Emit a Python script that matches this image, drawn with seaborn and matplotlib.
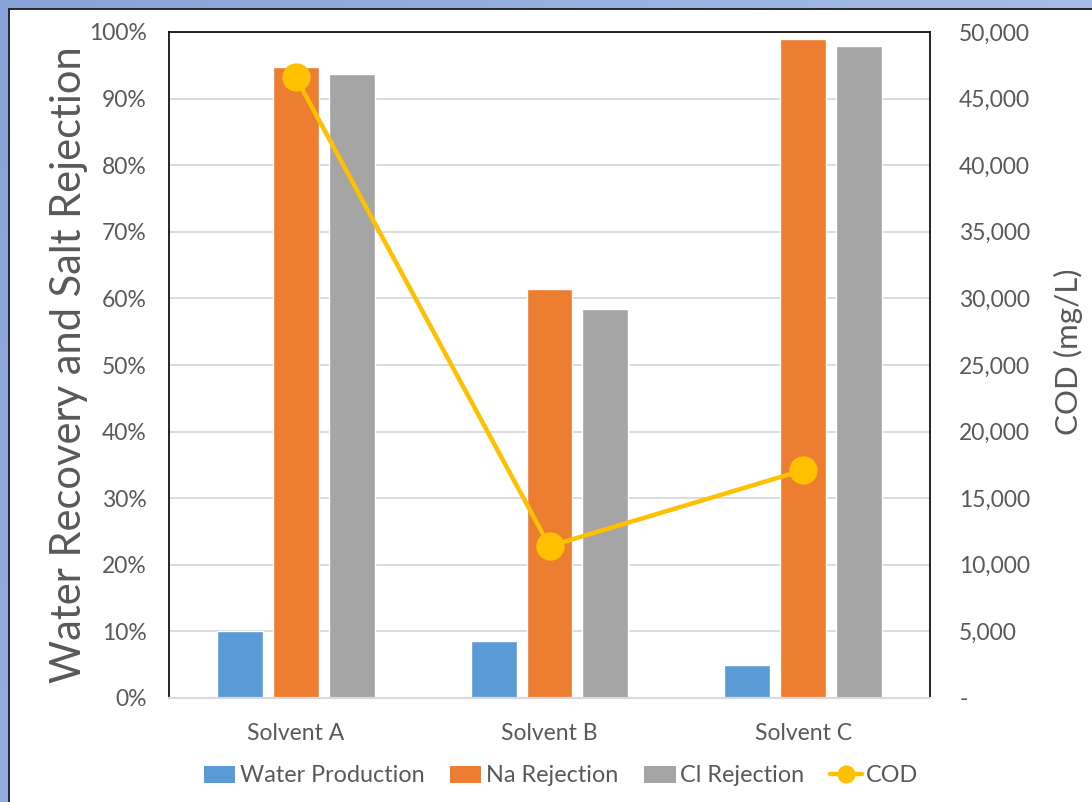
import numpy as np
import pandas as pd
import matplotlib
matplotlib.use("Agg")
import matplotlib.pyplot as plt
from matplotlib.patches import Rectangle, Patch
from matplotlib.lines import Line2D
from matplotlib.ticker import FuncFormatter, MultipleLocator
import seaborn as sns

# ---- data ----
solvents = ["Solvent A", "Solvent B", "Solvent C"]
water_production = [10.0, 8.5, 4.9]      # %
na_rejection = [94.7, 61.4, 99.0]        # %
cl_rejection = [93.7, 58.4, 97.9]        # %
cod = [46600, 11400, 17100]              # mg/L
series_names = ["Water Production", "Na Rejection", "Cl Rejection"]
series_colors = ["#5B9BD5", "#ED7D31", "#A5A5A5"]
cod_color = "#FFC000"
text_color = "#595959"

sns.set_theme(style="white")
plt.rcParams["font.family"] = ["Lato", "DejaVu Sans"]

bars = pd.DataFrame({
    "Solvent": solvents * 3,
    "Series": np.repeat(series_names, len(solvents)),
    "Value": water_production + na_rejection + cl_rejection,
})
line_df = pd.DataFrame({"Solvent": solvents, "COD": cod})

W, H = 1092, 802
fig = plt.figure(figsize=(W / 100, H / 100), dpi=100)

# slide-style backdrop: blue gradient behind a white panel
bg = fig.add_axes([0, 0, 1, 1], zorder=-10)
gx = np.linspace(0, 1, 256)[None, :]
gy = np.linspace(0, 1, 256)[:, None]
c0 = np.array([0x86, 0xA2, 0xD6]) / 255
c1 = np.array([0xB4, 0xC9, 0xEC]) / 255
t = np.clip(0.7 * gx + 0.3 * gy, 0, 1)[..., None]
bg.imshow(c0 * (1 - t) + c1 * t, extent=[0, 1, 0, 1], aspect="auto", origin="upper")
bg.add_patch(Rectangle((9 / W, -0.1), 1.2, 1 - 9 / H + 0.1, facecolor="white",
                       edgecolor="#1a1a1a", linewidth=1.3))
bg.set_xlim(0, 1)
bg.set_ylim(0, 1)
bg.axis("off")

ax = fig.add_axes([169 / W, 1 - 698 / H, (930 - 169) / W, (698 - 32) / H])
ax.set_facecolor("none")

sns.barplot(data=bars, x="Solvent", y="Value", hue="Series", hue_order=series_names,
            palette=series_colors, width=0.66, gap=0.18, saturation=1,
            errorbar=None, legend=False, ax=ax, zorder=2)

ax.set_ylim(0, 100)
ax.set_xlim(-0.5, 2.5)
ax.yaxis.set_major_locator(MultipleLocator(10))
ax.yaxis.set_major_formatter(FuncFormatter(lambda v, p: f"{v:.0f}%"))
ax.grid(axis="y", color="#D9D9D9", linewidth=1.3, zorder=0)
ax.set_axisbelow(True)
ax.tick_params(axis="y", length=0, pad=16, labelsize=16.5, labelcolor=text_color)
ax.tick_params(axis="x", length=0, pad=18, labelsize=16.5, labelcolor=text_color)
ax.set_xlabel("")
ax.set_ylabel("Water Recovery and Salt Rejection", fontsize=30, color=text_color, va="center")
ax.yaxis.set_label_coords((69 - 169) / 761, 0.5)
for side in ["left", "top", "right"]:
    ax.spines[side].set_color("#000000")
    ax.spines[side].set_linewidth(1.2)
ax.spines["bottom"].set_color("#D9D9D9")
ax.spines["bottom"].set_linewidth(1.6)

# COD on the secondary axis
ax2 = ax.twinx()
sns.pointplot(data=line_df, x="Solvent", y="COD", color=cod_color, markers="o",
              markersize=18, linewidth=3.2, errorbar=None, ax=ax2)
ax2.set_ylim(0, 50000)
ax2.set_xlim(-0.5, 2.5)
ax2.yaxis.set_major_locator(MultipleLocator(5000))
ax2.yaxis.set_major_formatter(FuncFormatter(lambda v, p: "-" if v == 0 else f"{v:,.0f}"))
ax2.tick_params(axis="y", length=0, pad=21, labelsize=16.5, labelcolor=text_color)
ax2.set_ylabel("COD (mg/L)", fontsize=22.5, color=text_color, va="center")
ax2.yaxis.set_label_coords((1068 - 169) / 761, 0.52)
for s in ax2.spines.values():
    s.set_visible(False)

handles = [Patch(facecolor=c, edgecolor="none") for c in series_colors]
handles.append(Line2D([0], [0], color=cod_color, linewidth=3.2, marker="o", markersize=12))
fig.legend(handles, series_names + ["COD"], loc="center", ncol=4,
           bbox_to_anchor=(561 / W, 1 - 776 / H), frameon=False, fontsize=16.8,
           labelcolor=text_color, handlelength=1.35, handleheight=0.7,
           handletextpad=0.2, columnspacing=1.1)

fig.savefig("out.png", dpi=100)
